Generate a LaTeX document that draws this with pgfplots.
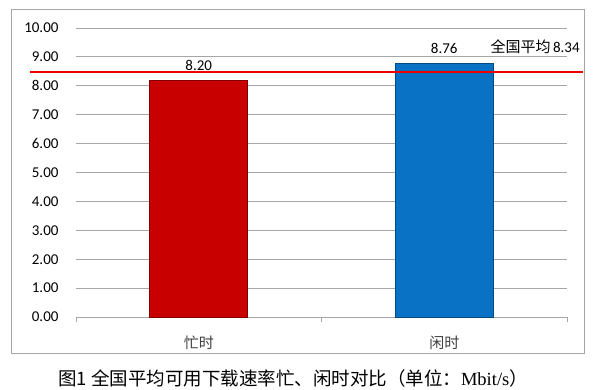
\documentclass[border=0pt]{standalone}
\usepackage{pgfplots}
\pgfplotsset{compat=1.18}
\usepackage{fontspec}
\setmainfont{Carlito}
\newfontfamily\cjk{Noto Sans CJK SC}
\newfontfamily\timesf{Liberation Serif}
\definecolor{barred}{HTML}{C80000}
\definecolor{barblue}{HTML}{0A72C4}
\definecolor{gridgray}{HTML}{A6A6A6}
\definecolor{txtgray}{HTML}{404040}
\definecolor{avgred}{HTML}{F00000}
\begin{document}
\begin{tikzpicture}[x=1pt,y=1pt]
\path[use as bounding box] (0,0) rectangle (600,389);
\fill[white] (0,0) rectangle (600,389);
\draw[gridgray, line width=1pt] (11,36) rectangle (584,379);
\begin{axis}[
  at={(76pt,72pt)}, anchor=south west,
  scale only axis, width=491pt, height=289pt,
  xmin=-0.5, xmax=1.5, ymin=0, ymax=10,
  axis x line*=bottom, axis y line*=left,
  y axis line style={draw=none},
  x axis line style={gridgray, line width=0.8pt},
  ytick={0,1,...,10},
  yticklabel style={xshift=-14pt, /pgf/number format/fixed, /pgf/number format/fixed zerofill, /pgf/number format/precision=2},
  /pgf/number format/assume math mode=true,
  ymajorgrids, grid style={gridgray, line width=0.8pt},
  major tick length=0pt,
  xtick={0,1}, xticklabels={忙时,闲时},
  xticklabel style={font=\cjk\fontsize{15}{18}\selectfont, text=txtgray, yshift=-15pt},
  minor xtick={-0.5,0.5,1.5},
  minor tick length=5pt, tick align=outside,
  minor tick style={gridgray, line width=0.8pt},
  tick label style={font=\fontsize{15}{18}\selectfont},
  clip=false,
  nodes near coords style={font=\fontsize{15}{18}\selectfont, yshift=6pt, /pgf/number format/fixed, /pgf/number format/fixed zerofill, /pgf/number format/precision=2, /pgf/number format/assume math mode=true},
]
\addplot[ybar, bar width=98pt, bar shift=0pt, fill=barred, draw=barred!65!black, line width=0.8pt, nodes near coords] coordinates {(0,8.20)};
\addplot[ybar, bar width=98pt, bar shift=0pt, fill=barblue, draw=barblue!65!black, line width=0.8pt, nodes near coords] coordinates {(1,8.76)};
\addplot[draw=avgred, color=avgred, line width=1.2pt, no marks] coordinates {(-0.687,8.48) (1.565,8.48)};
\node[font=\fontsize{15}{18}\selectfont] at (axis cs:1.37,9.34) {{\cjk 全国平均}\,8.34};
\end{axis}
\node[font=\cjk\fontsize{18.5}{21}\selectfont] at (293,11) {图1 全国平均可用下载速率忙、闲时对比（单位：{\timesf Mbit/s}）};
\end{tikzpicture}
\end{document}
